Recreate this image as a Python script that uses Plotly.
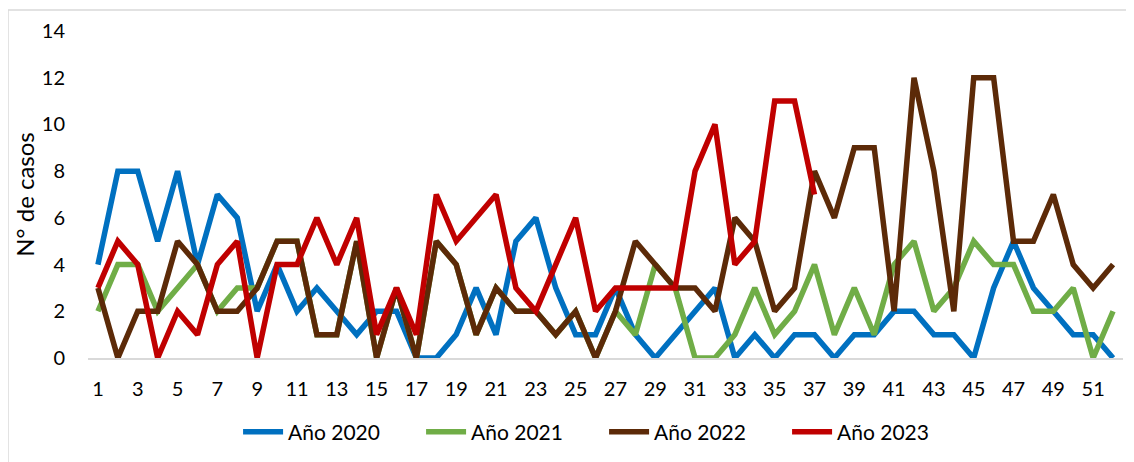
import plotly.graph_objects as go

weeks = list(range(1, 53))
y2020 = [4,8,8,5,8,4,7,6,2,4, 2,3,2,1,2,2,0,0,1,3, 1,5,6,3,1,1,3,1,0,1,
         2,3,0,1,0,1,1,0,1,1, 2,2,1,1,0,3,5,3,2,1, 1,0]
y2021 = [2,4,4,2,3,4,2,3,3, 5,5,1,1,5,0,3,0,5,4,1,3,2,2,1,2,0,2,
         1,4,3,0,0,1,3,1,2,4, 1,3,1,4,5,2,3,5,4,4,2,2,3,0,2]
y2022 = [3,0,2,2,5,4,2,2,3,5, 5,1,1,5,0,3,0,5,4,1, 3,2,2,1,2,0,2,5,4,3,
         3,2,6,5,2,3,8,6,9,9, 2,12,8,2,12,12,5,5,7,4, 3,4]
y2023 = [3,5,4,0,2,1,4,5,0,4, 4,6,4,6,1,3,1,7,5,6, 7,3,2,4,6,2,3,3,3,3,
         8,10,4,5,11,11,7]
names = ["Año 2020", "Año 2021", "Año 2022", "Año 2023"]
colors = ["#0070C0", "#70AD47", "#5C2A08", "#C00000"]
series = [y2020, y2021, y2022, y2023]
xticks = list(range(1, 52, 2))
yticks = list(range(0, 15, 2))

FONT = "Lato, 'Noto Sans', sans-serif"

fig = go.Figure()
for n, c, s in zip(names, colors, series):
    fig.add_trace(go.Scatter(x=weeks[:len(s)], y=s, mode="lines", name=n,
                             line=dict(color=c, width=5.5, shape="linear")))

fig.update_layout(
    width=1126, height=454,
    margin=dict(l=80, r=11, t=23, b=103),
    paper_bgcolor="white", plot_bgcolor="white",
    font=dict(family=FONT, size=20, color="#000000"),
    showlegend=True,
    legend=dict(orientation="h", x=0.145, xanchor="left", y=-0.2226, yanchor="middle",
                font=dict(size=21), itemwidth=40, entrywidth=128, tracegroupgap=0),
    xaxis=dict(range=[0.5, 52.5], tickvals=xticks, ticktext=[str(v) for v in xticks],
               showgrid=False, zeroline=False, showline=True, linecolor="#D9D9D9", linewidth=1.5,
               ticks="", ticklabelstandoff=12, fixedrange=True),
    yaxis=dict(range=[0, 14], tickvals=yticks, showgrid=False, zeroline=False,
               showline=False, ticks="", ticklabelstandoff=22,
               title=dict(text="N° de casos", font=dict(size=24), standoff=0), fixedrange=True),
    shapes=[
        dict(type="line", xref="paper", yref="paper", x0=-0.0773, x1=1.2, y0=1.064, y1=1.064,
             line=dict(color="#D9D9D9", width=1.5)),
        dict(type="line", xref="paper", yref="paper", x0=-0.0773, x1=-0.0773, y0=-0.5, y1=1.064,
             line=dict(color="#D9D9D9", width=1.5)),
    ],
)

fig.write_html("out.html")
